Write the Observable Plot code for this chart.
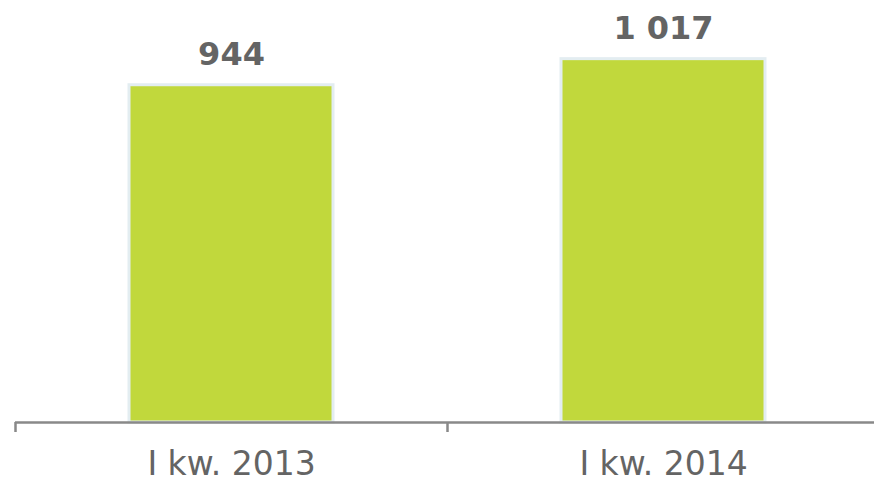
<!DOCTYPE html>
<html>
<head>
<meta charset="utf-8">
<script src="https://cdn.jsdelivr.net/npm/d3@7"></script>
<script src="https://cdn.jsdelivr.net/npm/@observablehq/plot@0.6"></script>
<style>
  html, body { margin: 0; padding: 0; background: #fff; }
  svg { display: block; }
</style>
</head>
<body>
<div id="chart"></div>
<script>
const quarters = ["I kw. 2013", "I kw. 2014"];
const values = [944, 1017];
const valueLabels = ["944", "1 017"];

const data = quarters.map((q, i) => ({quarter: q, value: values[i], label: valueLabels[i]}));

const W = 874, H = 478;
const bandHalf = 216;

const chart = Plot.plot({
  width: W,
  height: H,
  marginLeft: 15,
  marginRight: -5,
  marginTop: 29,
  marginBottom: 56,
  style: {fontFamily: "DejaVu Sans, Verdana, sans-serif", background: "#fff"},
  x: {domain: quarters, padding: 0, label: null},
  y: {domain: [0, 1100], axis: null},
  marks: [
    Plot.barY(data, {
      x: "quarter", y: "value",
      fill: "#c1d83c", stroke: "#e3edf1", strokeWidth: 3,
      insetLeft: 114, insetRight: 114
    }),
    Plot.ruleY([0], {stroke: "#898989", strokeWidth: 2.5}),
    Plot.ruleX(quarters, {x: d => d, y1: 0, y2: -28, dx: -bandHalf, stroke: "#898989", strokeWidth: 2.5}),
    Plot.text(data, {
      x: "quarter", y: "value", text: "label",
      dy: -20, lineAnchor: "bottom",
      fontSize: 32, fontWeight: "bold", fill: "#646464"
    }),
    Plot.axisX({tickSize: 0, tickPadding: 29, fontSize: 33, color: "#646464", label: null})
  ]
});

document.getElementById("chart").append(chart);
</script>
</body>
</html>
